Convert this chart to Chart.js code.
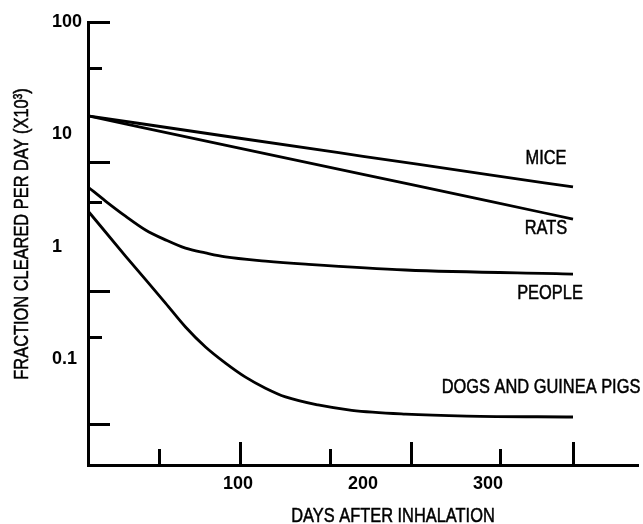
<!DOCTYPE html>
<html>
<head>
<meta charset="utf-8">
<script src="https://cdn.jsdelivr.net/npm/chart.js@4.4.1/dist/chart.umd.min.js"></script>
<style>
html,body{margin:0;padding:0;background:#fff;}
#wrap{position:relative;width:643px;height:524px;}
</style>
</head>
<body>
<div id="wrap"><canvas id="chart" width="643" height="524"></canvas></div>
<script>
// ---------- data ----------
const seriesNames = ['MICE', 'RATS', 'PEOPLE', 'DOGS AND GUINEA PIGS'];

const miceDays   = [-20, 100, 200, 300, 368];
const miceValues = [14.6, 9.28, 6.38, 4.39, 3.40];

const ratsDays   = [-20, 100, 200, 300, 368];
const ratsValues = [14.6, 7.58, 4.40, 2.56, 1.76];

const peopleDays   = [-20, -6, 10, 26, 42, 58, 74, 90, 122, 154, 234, 368];
const peopleValues = [3.40, 2.55, 1.87, 1.41, 1.15, 0.97, 0.88, 0.81, 0.745, 0.70, 0.62, 0.571];

const dogsDays   = [-20, 10, 42, 58, 74, 90, 106, 122, 138, 164, 191, 234, 283, 368];
const dogsValues = [2.08, 0.826, 0.315, 0.193, 0.128, 0.092, 0.069, 0.055, 0.046, 0.039, 0.035, 0.0324, 0.0311, 0.0305];

const xTickValues = [100, 200, 300];
const xTickText   = ['100', '200', '300'];
const yTickValues = [100, 10, 1, 0.1];
const yTickText   = ['100', '10', '1', '0.1'];

// tick marks as drawn on the axes (not aligned with labels in the original)
const xMajorMarks = [102, 239, 368];
const xMinorMarks = [37, 174, 310];
const yMajorMarks = [100, 5.56, 0.403, 0.0259];
const yMinorMarks = [38.2, 2.45, 0.154];

const xRange = [-20, 420];
const yRange = [0.0114, 100];

const xTitle = 'DAYS AFTER INHALATION';
const yTitle = 'FRACTION CLEARED PER DAY (X10\u00B3)';

// ---------- presentation ----------
const TICK_FONT = "'Liberation Sans', Arial, sans-serif";
const TEXT_FONT = "'Liberation Sans', Arial, sans-serif";
const NARROW = 0.82;
const INK = '#000000';
const labelOffsets = [[-27, -29], [-27, 9], [-23, 19], [-32, -29]];

function toPoints(xs, ys) { return xs.map((x, i) => ({x: x, y: ys[i]})); }

const seriesData = [
  toPoints(miceDays, miceValues),
  toPoints(ratsDays, ratsValues),
  toPoints(peopleDays, peopleValues),
  toPoints(dogsDays, dogsValues)
];

function markAxis(axis, type, position, range, values, len) {
  return {
    axis: axis, type: type, position: position, min: range[0], max: range[1], weight: 0,
    display: true,
    ticks: {display: false},
    border: {display: false},
    grid: {display: true, drawOnChartArea: false, drawTicks: true, tickLength: -len, tickWidth: 3, tickColor: INK},
    afterBuildTicks: s => { s.ticks = values.map(v => ({value: v})); },
    afterFit: s => { if (position === 'left') { s.width = 0; } else { s.height = 0; } }
  };
}

function narrowText(ctx, text, x, y, rotate) {
  ctx.save();
  ctx.translate(x, y);
  if (rotate) ctx.rotate(-Math.PI / 2);
  ctx.scale(NARROW, 1);
  ctx.fillText(text, 0, 0);
  ctx.strokeText(text, 0, 0);
  ctx.restore();
}

const annotate = {
  id: 'annotate',
  afterDatasetsDraw(chart) {
    const {ctx, chartArea, scales} = chart;
    ctx.save();
    ctx.fillStyle = INK;
    ctx.strokeStyle = INK;
    ctx.lineWidth = 0.5;
    ctx.font = '20px ' + TEXT_FONT;
    ctx.textAlign = 'center';
    ctx.textBaseline = 'middle';
    chart.data.datasets.forEach((ds, i) => {
      const last = ds.data[ds.data.length - 1];
      const x = scales.x.getPixelForValue(last.x) + labelOffsets[i][0];
      const y = scales.y.getPixelForValue(last.y) + labelOffsets[i][1];
      narrowText(ctx, ds.label, x, y, false);
    });
    narrowText(ctx, xTitle, chartArea.left + 305, chartArea.bottom + 51, false);
    narrowText(ctx, yTitle, 22, chartArea.top + 212, true);
    ctx.restore();
  }
};

new Chart(document.getElementById('chart'), {
  type: 'line',
  data: {
    datasets: seriesNames.map((name, i) => ({
      label: name,
      data: seriesData[i],
      borderColor: INK,
      borderWidth: 2.8,
      pointRadius: 0,
      fill: false,
      cubicInterpolationMode: 'monotone'
    }))
  },
  options: {
    responsive: false,
    animation: false,
    layout: {padding: {left: 52, top: 22, right: 5, bottom: 29}},
    plugins: {legend: {display: false}, tooltip: {enabled: false}, title: {display: false}},
    scales: {
      x: {
        type: 'linear', position: 'bottom', min: xRange[0], max: xRange[1], weight: 1,
        afterBuildTicks: s => { s.ticks = xTickValues.map(v => ({value: v})); },
        afterFit: s => { s.height = 30; },
        ticks: {
          padding: 8, maxRotation: 0, autoSkip: false, color: INK,
          font: {family: TICK_FONT, size: 18, weight: 'bold'},
          callback: (v, i) => xTickText[i]
        },
        grid: {display: false, drawTicks: false, tickLength: 0},
        border: {display: true, color: INK, width: 3}
      },
      y: {
        type: 'logarithmic', position: 'left', min: yRange[0], max: yRange[1], weight: 1,
        afterBuildTicks: s => { s.ticks = yTickValues.map(v => ({value: v})); },
        afterFit: s => { s.width = 36; },
        ticks: {
          padding: 0, crossAlign: 'far', color: INK, autoSkip: false,
          font: {family: TICK_FONT, size: 18, weight: 'bold'},
          callback: (v, i) => yTickText[i]
        },
        grid: {display: false, drawTicks: false, tickLength: 0},
        border: {display: true, color: INK, width: 3}
      },
      xMajor: markAxis('x', 'linear', 'bottom', xRange, xMajorMarks, 23),
      xMinor: markAxis('x', 'linear', 'bottom', xRange, xMinorMarks, 16),
      yMajor: markAxis('y', 'logarithmic', 'left', yRange, yMajorMarks, 22),
      yMinor: markAxis('y', 'logarithmic', 'left', yRange, yMinorMarks, 14)
    }
  },
  plugins: [annotate]
});
</script>
</body>
</html>
